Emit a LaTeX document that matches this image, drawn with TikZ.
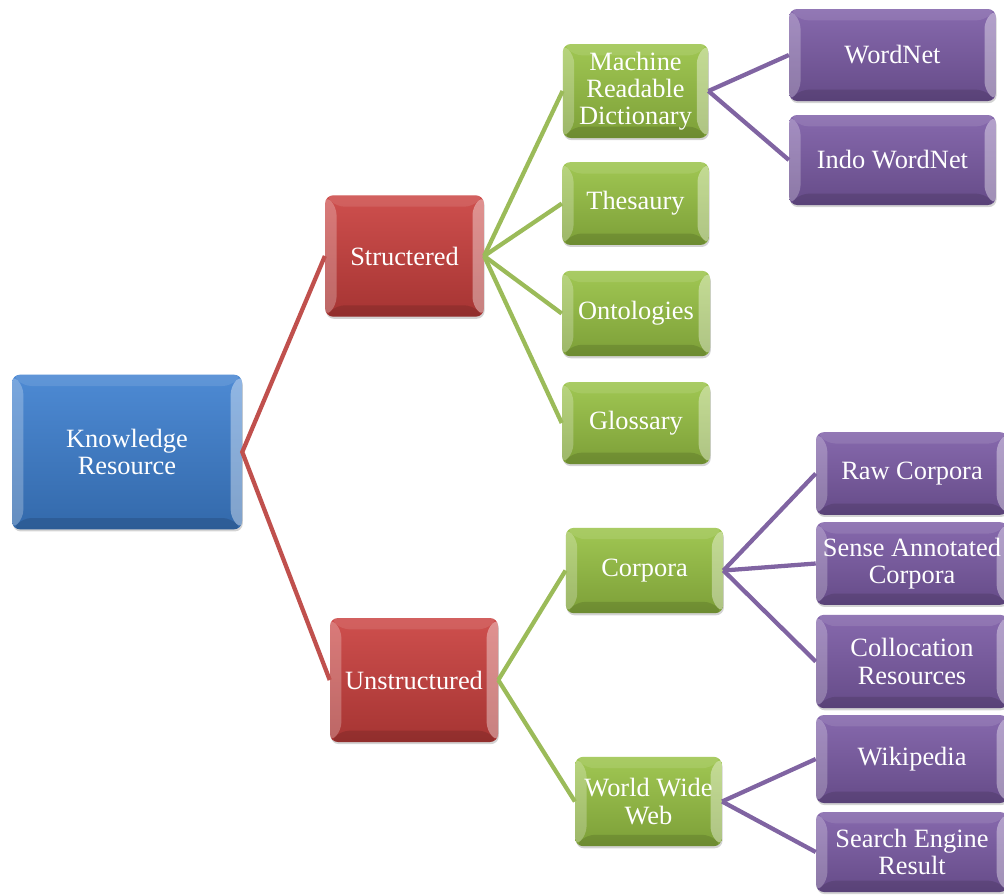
\documentclass[tikz,border=0pt]{standalone}
\usepackage{fontspec}
\setmainfont{Liberation Serif}
\usetikzlibrary{calc,shadows}
\definecolor{kblue}{RGB}{62,128,208}
\definecolor{kred}{RGB}{202,64,62}
\definecolor{kgreen}{RGB}{152,194,68}
\definecolor{kpurple}{RGB}{124,92,166}
\definecolor{lred}{RGB}{192,80,77}
\definecolor{lgreen}{RGB}{155,187,89}
\definecolor{lpurple}{RGB}{128,100,162}
\newcommand{\boxfont}{\fontsize{19.8}{20.4}\selectfont}
\newcommand{\bev}{8.5pt}
\tikzset{
  box/.style={rounded corners=6pt, text=white, align=center, font=\boxfont, inner sep=1pt,
    drop shadow={opacity=0.35, shadow xshift=0.6pt, shadow yshift=-1.6pt},
    path picture={
      \coordinate (pnw) at (path picture bounding box.north west);
      \coordinate (pse) at (path picture bounding box.south east);
      \coordinate (pne) at (pnw-|pse);
      \coordinate (psw) at (pnw|-pse);
      \fill[white,opacity=0.10] (pnw) -- (pne) -- ($(pne)+(-\bev,-\bev)$) -- ($(pnw)+(\bev,-\bev)$) -- cycle;
      \fill[black,opacity=0.12] (psw) -- (pse) -- ($(pse)+(-\bev,\bev)$) -- ($(psw)+(\bev,\bev)$) -- cycle;
      \fill[white,opacity=0.25] (pnw) -- (psw) -- ($(psw)+(\bev,\bev)$) -- ($(pnw)+(\bev,-\bev)$) -- cycle;
      \fill[white,opacity=0.38] (pne) -- (pse) -- ($(pse)+(-\bev,\bev)$) -- ($(pne)+(-\bev,-\bev)$) -- cycle;
    }},
  bluebox/.style={box, top color=kblue!92!white, bottom color=kblue!82!black},
  redbox/.style={box, top color=kred!92!white, bottom color=kred!82!black},
  greenbox/.style={box, top color=kgreen!92!white, bottom color=kgreen!82!black},
  purplebox/.style={box, top color=kpurple!92!white, bottom color=kpurple!82!black},
  link/.style={line width=3.2pt},
  redlink/.style={link, lred},
  greenlink/.style={link, lgreen},
  purplelink/.style={link, lpurple},
}
\begin{document}
\begin{tikzpicture}[x=0.75pt,y=-0.75pt]
\useasboundingbox (0,0) rectangle (1004,894);
% level 0
\node[bluebox, minimum width=172.5pt, minimum height=116pt] (kr) at (127,452) {Knowledge\\Resource};
% level 1
\node[redbox, minimum width=119pt, minimum height=91pt] (st) at (404.5,256) {Structered};
\node[redbox, minimum width=126pt, minimum height=93pt] (un) at (414,680) {Unstructured};
% level 2
\node[greenbox, minimum width=109pt, minimum height=70.5pt] (mrd) at (635.5,91) {Machine\\Readable\\Dictionary};
\node[greenbox, minimum width=110pt, minimum height=62pt] (th) at (635.5,203.5) {Thesaury};
\node[greenbox, minimum width=111pt, minimum height=64pt] (on) at (636,313.5) {Ontologies};
\node[greenbox, minimum width=111pt, minimum height=61.5pt] (gl) at (636,423) {Glossary};
\node[greenbox, minimum width=118pt, minimum height=64pt] (co) at (644.5,570.5) {Corpora};
\node[greenbox, minimum width=110pt, minimum height=67pt] (www) at (648.5,801.5) {World Wide\\Web};
% level 3
\node[purplebox, minimum width=155pt, minimum height=69pt] (wn) at (892.5,55) {WordNet};
\node[purplebox, minimum width=155pt, minimum height=67.5pt] (iwn) at (892.5,160) {Indo WordNet};
\node[purplebox, minimum width=144pt, minimum height=62pt] (raw) at (912,473.5) {Raw Corpora};
\node[purplebox, minimum width=144pt, minimum height=62pt] (sac) at (912,563.5) {Sense Annotated\\Corpora};
\node[purplebox, minimum width=144pt, minimum height=70pt] (col) at (912,661.5) {Collocation\\Resources};
\node[purplebox, minimum width=144pt, minimum height=66pt] (wiki) at (912,759) {Wikipedia};
\node[purplebox, minimum width=144pt, minimum height=60pt] (ser) at (912,852) {Search Engine\\Result};
% connectors
\draw[redlink] (st.west) -- (kr.east) -- (un.west);
\foreach \c in {mrd,th,on,gl} \draw[greenlink] (st.east) -- (\c.west);
\foreach \c in {co,www} \draw[greenlink] (un.east) -- (\c.west);
\foreach \c in {wn,iwn} \draw[purplelink] (mrd.east) -- (\c.west);
\foreach \c in {raw,sac,col} \draw[purplelink] (co.east) -- (\c.west);
\foreach \c in {wiki,ser} \draw[purplelink] (www.east) -- (\c.west);
\end{tikzpicture}
\end{document}
